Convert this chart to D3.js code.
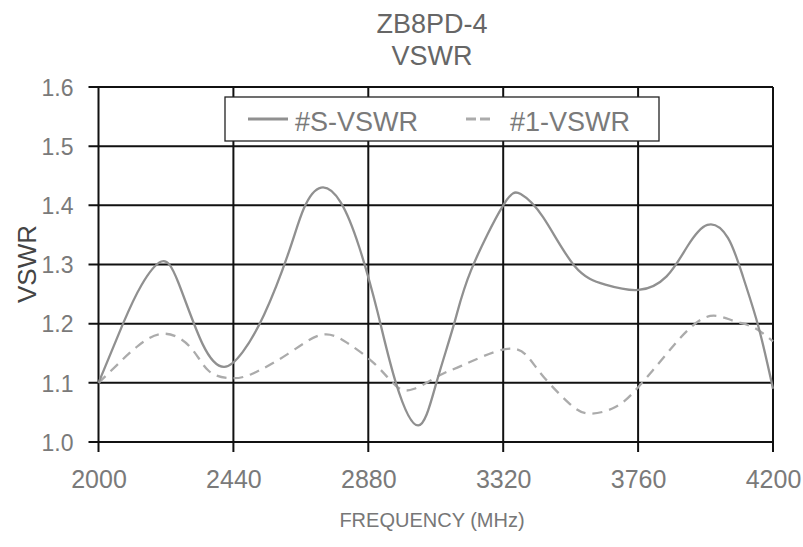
<!DOCTYPE html>
<html>
<head>
<meta charset="utf-8">
<script src="https://cdn.jsdelivr.net/npm/d3@7"></script>
<style>
  html, body { margin: 0; padding: 0; background: #fff; }
  svg { display: block; font-family: "Liberation Sans", Arial, sans-serif; }
</style>
</head>
<body>
<svg id="chart" width="803" height="547"></svg>
<script>
// Frequency sweep (MHz) and measured VSWR for the two ports
const sFreq = [2000, 2080, 2140, 2205, 2260, 2340, 2410, 2470, 2540, 2620, 2670, 2726, 2790, 2850, 2910, 2970, 3043, 3102, 3160, 3215, 3320, 3377, 3450, 3552, 3653, 3761, 3853, 3920, 3986, 4053, 4103, 4153, 4200];
const sVswr = [1.10, 1.20, 1.265, 1.305, 1.27, 1.165, 1.127, 1.152, 1.215, 1.32, 1.395, 1.43, 1.405, 1.33, 1.22, 1.1, 1.028, 1.10, 1.20, 1.29, 1.40, 1.419, 1.38, 1.298, 1.266, 1.257, 1.28, 1.33, 1.367, 1.345, 1.278, 1.194, 1.09];

const oneFreq = [2000, 2060, 2130, 2215, 2300, 2360, 2430, 2500, 2618, 2726, 2810, 2901, 2970, 3030, 3118, 3185, 3327, 3402, 3452, 3536, 3602, 3686, 3761, 3853, 3920, 3995, 4070, 4136, 4200];
const oneVswr = [1.10, 1.13, 1.163, 1.183, 1.16, 1.12, 1.108, 1.115, 1.149, 1.181, 1.168, 1.132, 1.095, 1.09, 1.114, 1.129, 1.157, 1.143, 1.11, 1.065, 1.048, 1.059, 1.093, 1.149, 1.188, 1.213, 1.205, 1.194, 1.17];

const xTicks = [2000, 2440, 2880, 3320, 3760, 4200];
const yTicks = [1.0, 1.1, 1.2, 1.3, 1.4, 1.5, 1.6];
const seriesNames = ["#S-VSWR", "#1-VSWR"];
const titleLines = ["ZB8PD-4", "VSWR"];

const svg = d3.select("#chart");
const plot = { left: 98.5, right: 773, top: 87, bottom: 442 };

const x = d3.scaleLinear().domain([2000, 4200]).range([plot.left, plot.right]);
const y = d3.scaleLinear().domain([1.0, 1.6]).range([plot.bottom, plot.top]);

// Title
svg.selectAll("text.title").data(titleLines).join("text")
  .attr("class", "title")
  .attr("x", 432).attr("y", (d, i) => 33 + i * 32)
  .attr("text-anchor", "middle")
  .attr("font-size", 27).attr("fill", "#666")
  .text(d => d);

// Grid
const grid = svg.append("g");
grid.selectAll("line.h").data(yTicks).join("line")
  .attr("x1", plot.left - 10).attr("x2", plot.right)
  .attr("y1", d => y(d)).attr("y2", d => y(d))
  .attr("stroke", "#111").attr("stroke-width", 2);
grid.selectAll("line.v").data(xTicks).join("line")
  .attr("class", "v")
  .attr("x1", d => x(d)).attr("x2", d => x(d))
  .attr("y1", plot.top).attr("y2", plot.bottom + 10)
  .attr("stroke", "#111").attr("stroke-width", 2);

// Axes labels via d3 axes (domain & tick lines hidden, grid drawn above)
const xAxis = svg.append("g")
  .attr("transform", `translate(0,${plot.bottom})`)
  .call(d3.axisBottom(x).tickValues(xTicks).tickSize(0).tickPadding(46).tickFormat(d3.format("d")));
const yAxis = svg.append("g")
  .attr("transform", `translate(${plot.left},0)`)
  .call(d3.axisLeft(y).tickValues(yTicks).tickSize(0).tickPadding(25).tickFormat(d3.format(".1f")));
[xAxis, yAxis].forEach(g => {
  g.select(".domain").remove();
  g.selectAll("text").attr("font-size", 25).attr("fill", "#7a7a7a")
    .attr("font-family", "'Liberation Sans', Arial, sans-serif");
});
yAxis.selectAll("text").attr("font-size", 23).attr("dy", "0.36em");
xAxis.selectAll("text").attr("dy", 0);

// Axis titles
svg.append("text")
  .attr("transform", "translate(36,264) rotate(-90)")
  .attr("text-anchor", "middle")
  .attr("font-size", 26).attr("fill", "#444")
  .text("VSWR");
svg.append("text")
  .attr("x", 432).attr("y", 527)
  .attr("text-anchor", "middle")
  .attr("font-size", 20).attr("fill", "#777")
  .text("FREQUENCY (MHz)");

// Curves
const line = d3.line().curve(d3.curveNatural).x(d => x(d[0])).y(d => y(d[1]));
const sData = sFreq.map((f, i) => [f, sVswr[i]]);
const oneData = oneFreq.map((f, i) => [f, oneVswr[i]]);

svg.append("path").datum(oneData)
  .attr("d", line).attr("fill", "none")
  .attr("stroke", "#ababab").attr("stroke-width", 2.3)
  .attr("stroke-dasharray", "10,7");
svg.append("path").datum(sData)
  .attr("d", line).attr("fill", "none")
  .attr("stroke", "#909090").attr("stroke-width", 2.3);

// Legend
const lg = svg.append("g");
lg.append("rect")
  .attr("x", 225).attr("y", 97).attr("width", 434).attr("height", 44)
  .attr("fill", "#fff").attr("stroke", "#222").attr("stroke-width", 1.3);
lg.append("line").attr("x1", 248).attr("x2", 288).attr("y1", 119).attr("y2", 119)
  .attr("stroke", "#909090").attr("stroke-width", 3);
lg.append("line").attr("x1", 466).attr("x2", 490).attr("y1", 119).attr("y2", 119)
  .attr("stroke", "#ababab").attr("stroke-width", 3).attr("stroke-dasharray", "10,4");
lg.selectAll("text").data(seriesNames).join("text")
  .attr("x", (d, i) => i === 0 ? 295 : 510)
  .attr("y", 131)
  .attr("font-size", 27).attr("fill", "#7a7a7a")
  .text(d => d);
</script>
</body>
</html>
